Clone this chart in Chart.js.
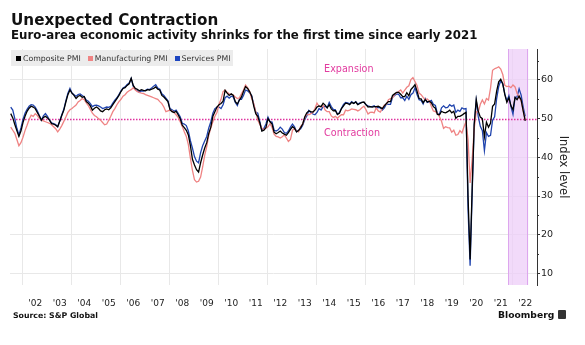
<!DOCTYPE html>
<html lang="en">
<head>
<meta charset="UTF-8">
<title>Unexpected Contraction</title>
<script src="https://cdn.jsdelivr.net/npm/chart.js"></script>
<style>
  body { margin: 0; background: #fff; font-family: "DejaVu Sans", sans-serif; color: #111; }
  .frame { position: relative; width: 585px; height: 345px; overflow: hidden; }
  #pmiChart { position: absolute; left: 0; top: 0; }
  .headline { position: absolute; left: 11px; top: 12px; font-size: 15.2px; font-weight: bold; line-height: 17px; white-space: nowrap; }
  .subhead { position: absolute; left: 11px; top: 29px; font-size: 11.8px; font-weight: bold; line-height: 13px; white-space: nowrap; }
  .legend { position: absolute; left: 11px; top: 50px; width: 222px; height: 16px; background: #ececec;
            display: flex; align-items: center; font-size: 7.8px; color: #333; }
  .legend span { display: inline-flex; align-items: center; white-space: nowrap; }
  .legend i { display: inline-block; width: 5px; height: 5px; margin: 0 2px 0 0; }
  .source { position: absolute; left: 13px; top: 311px; font-size: 7.8px; font-weight: bold; }
  .brand { position: absolute; left: 498px; top: 309px; font-size: 9.2px; font-weight: bold; display: flex; align-items: center; }
  .brand b { display: inline-block; width: 8px; height: 9px; background: #333; border-radius: 1px; margin-left: 4px; }
</style>
</head>
<body>
<div class="frame">
  <canvas id="pmiChart" width="585" height="345"></canvas>
  <div class="headline">Unexpected Contraction</div>
  <div class="subhead">Euro-area economic activity shrinks for the first time since early 2021</div>
  <div class="legend">
    <span style="margin-left:5px"><i style="background:#000"></i>Composite PMI</span>
    <span style="margin-left:7px"><i style="background:#ef8383"></i>Manufacturing PMI</span>
    <span style="margin-left:7px"><i style="background:#1c45c0"></i>Services PMI</span>
  </div>
  <div class="source">Source: S&amp;P Global</div>
  <div class="brand">Bloomberg<b></b></div>
</div>

<script>
// monthly readings, July 2001 through July 2022
const START_YEAR = 2001;
const START_MONTH = 7;

const composite = [
  51.3, 50.2, 48.5, 46.9, 45.4, 46.8,
  49.0, 50.6, 51.9, 52.7, 53.2, 53.0, 52.6, 51.6, 50.7, 49.6, 50.3, 50.6,
  50.2, 49.6, 48.7, 48.6, 48.3, 47.9, 49.3, 50.8, 52.2, 54.3, 56.2, 57.4,
  56.6, 56.0, 55.2, 55.8, 56.0, 55.5, 55.7, 54.4, 54.0, 53.3, 52.2, 52.7,
  53.0, 52.6, 52.0, 51.8, 52.3, 52.5, 52.3, 52.8, 53.6, 54.4, 55.2, 56.0,
  57.0, 57.8, 58.0, 58.6, 59.0, 60.4, 58.6, 57.8, 57.6, 57.2, 57.5, 57.3,
  57.2, 57.5, 57.4, 57.6, 57.8, 58.2, 57.6, 57.4, 56.0, 55.6, 55.0, 54.4,
  52.3, 51.8, 51.6, 51.9, 51.0, 50.0, 48.3, 47.7, 47.0, 45.8, 43.0, 39.5,
  38.0, 36.8, 36.2, 38.6, 40.6, 42.4, 43.8, 46.2, 47.8, 50.6, 51.8, 53.0,
  53.6, 53.9, 54.5, 57.3, 56.6, 56.0, 56.4, 56.0, 54.4, 53.8, 54.8, 55.6,
  57.0, 58.3, 57.8, 57.0, 55.8, 53.3, 51.3, 50.6, 48.9, 46.8, 47.0, 47.7,
  50.0, 49.2, 48.6, 46.5, 46.1, 46.4, 46.8, 46.3, 46.0, 45.7, 46.4, 47.2,
  47.9, 47.5, 46.6, 46.9, 47.7, 48.6, 50.4, 51.5, 52.0, 51.8, 51.7, 52.2,
  53.0, 53.3, 53.1, 54.0, 53.5, 52.8, 53.6, 52.5, 52.0, 52.1, 51.1, 51.4,
  52.6, 53.3, 54.0, 53.9, 53.6, 54.2, 53.9, 54.3, 53.6, 53.9, 54.2, 54.3,
  53.6, 53.0, 53.1, 53.0, 53.1, 53.1, 53.2, 52.9, 52.6, 53.3, 53.9, 54.4,
  54.4, 56.0, 56.4, 56.8, 56.8, 56.3, 55.7, 55.7, 56.7, 55.9, 57.5, 58.1,
  58.8, 57.1, 55.2, 55.1, 54.1, 54.9, 54.3, 54.5, 54.1, 53.1, 52.7, 51.1,
  51.0, 51.9, 51.6, 51.5, 51.8, 52.2, 51.5, 51.9, 50.1, 50.6, 50.6, 50.9,
  51.3, 51.6, 29.7, 13.6, 31.9, 48.5, 54.9, 51.9, 50.4, 50.0, 45.3, 49.1,
  47.8, 48.8, 53.2, 53.8, 57.1, 59.5, 60.2, 59.0, 56.2, 54.2, 55.4, 53.3,
  52.3, 55.5, 54.9, 55.8, 54.8, 52.0, 49.4
];

const manufacturing = [
  47.8, 47.0, 46.2, 44.6, 43.0, 43.8,
  45.2, 46.9, 48.3, 49.8, 50.9, 50.6, 51.3, 50.8, 50.1, 49.6, 49.4, 49.2,
  49.0, 48.8, 48.4, 47.9, 47.4, 46.6, 47.3, 48.2, 49.3, 50.4, 51.6, 52.3,
  52.6, 53.1, 53.5, 54.3, 54.7, 55.2, 54.9, 54.1, 53.4, 52.4, 51.4, 50.8,
  50.5, 50.0, 49.6, 49.0, 48.4, 48.6, 49.6, 50.6, 51.8, 52.6, 53.6, 54.4,
  55.0, 55.8, 56.2, 56.8, 57.2, 57.5, 58.0, 57.4, 57.0, 56.8, 56.6, 56.5,
  56.2, 56.0, 55.8, 55.6, 55.4, 55.2, 55.0, 54.4, 53.9, 53.0, 51.8, 52.0,
  52.2, 52.0, 51.6, 51.0, 50.3, 49.2, 48.0, 46.6, 45.4, 43.3, 39.8, 36.6,
  34.2, 33.6, 33.8, 34.9, 37.5, 40.5, 42.8, 45.7, 47.6, 49.2, 50.6, 51.6,
  53.7, 55.0, 57.0, 57.4, 56.8, 56.4, 56.3, 56.1, 55.6, 55.2, 55.4, 56.4,
  57.4, 58.7, 58.0, 57.0, 55.2, 53.9, 51.8, 49.6, 48.5, 47.5, 47.2, 47.5,
  47.9, 48.7, 47.7, 46.0, 45.4, 45.3, 45.0, 45.3, 45.8, 45.0, 44.1, 44.6,
  47.0, 47.4, 46.8, 46.6, 48.0, 48.6, 50.2, 51.2, 51.0, 51.3, 51.6, 52.6,
  54.0, 53.2, 53.0, 53.4, 52.2, 51.8, 51.8, 50.7, 50.3, 50.6, 50.1, 50.6,
  51.0, 51.0, 52.2, 52.0, 52.2, 52.5, 52.4, 52.3, 52.0, 52.3, 52.8, 53.2,
  52.3, 51.2, 51.6, 51.7, 51.5, 52.8, 52.0, 51.7, 52.6, 53.5, 53.7, 54.9,
  55.2, 55.4, 56.2, 56.7, 57.0, 57.4, 56.6, 57.4, 58.1, 58.5, 60.1, 60.6,
  59.6, 58.6, 56.6, 56.2, 55.5, 54.9, 55.1, 54.6, 53.2, 52.0, 51.8, 51.4,
  50.5, 49.3, 47.5, 47.9, 47.7, 47.6, 46.5, 47.0, 45.7, 45.9, 46.9, 46.3,
  47.9, 49.2, 44.5, 33.4, 39.4, 47.4, 51.8, 51.7, 53.7, 54.8, 53.8, 55.2,
  54.8, 57.9, 62.5, 62.9, 63.1, 63.4, 62.8, 61.4, 58.6, 58.3, 58.4, 58.0,
  58.7, 58.2, 56.5, 55.5, 54.6, 52.1, 49.6
];

const services = [
  53.0, 52.2, 50.0, 47.5, 45.8, 47.6,
  49.8, 51.4, 52.4, 53.2, 53.6, 53.5, 53.0, 52.0, 50.8, 49.6, 50.7, 51.3,
  50.6, 49.6, 48.9, 48.7, 48.5, 47.9, 49.4, 51.0, 52.4, 54.6, 56.6, 57.8,
  56.6, 56.2, 55.8, 56.2, 56.4, 56.0, 55.6, 54.8, 54.5, 53.9, 53.1, 53.4,
  53.5, 53.3, 53.0, 52.6, 52.8, 53.0, 52.9, 53.2, 54.0, 54.8, 55.4, 56.2,
  57.2, 57.9, 58.2, 58.8, 59.2, 60.4, 58.4, 57.6, 57.2, 56.8, 57.2, 57.1,
  57.3, 57.6, 57.5, 57.9, 58.4, 58.8, 57.9, 57.6, 56.4, 56.0, 55.3, 54.6,
  52.6, 52.3, 51.9, 52.2, 51.4, 50.5, 48.8, 48.6, 48.2, 46.8, 44.3, 42.4,
  40.2, 39.0, 38.6, 41.2, 43.0, 44.2, 45.4, 47.6, 49.2, 51.4, 52.6, 53.0,
  53.0, 52.6, 53.6, 55.4, 55.8, 55.3, 55.8, 55.6, 54.2, 53.4, 55.0, 55.0,
  56.0, 57.4, 57.2, 56.7, 56.0, 53.7, 51.7, 51.4, 49.2, 47.0, 47.5, 48.6,
  50.4, 49.2, 49.1, 47.0, 46.8, 47.1, 47.8, 47.3, 46.4, 46.2, 46.8, 47.8,
  48.6, 47.9, 46.6, 47.0, 47.4, 48.3, 49.8, 50.7, 52.1, 51.6, 51.2, 51.0,
  51.6, 52.6, 52.2, 53.1, 53.2, 52.8, 54.2, 53.1, 52.4, 52.3, 51.1, 51.6,
  52.7, 53.7, 54.2, 54.1, 53.8, 54.4, 54.0, 54.4, 53.7, 54.1, 54.2, 54.2,
  53.6, 53.3, 53.1, 53.1, 53.3, 52.8, 52.9, 52.8, 52.2, 52.8, 53.8, 53.7,
  53.7, 55.5, 56.0, 56.4, 56.3, 55.4, 55.4, 54.7, 55.8, 55.0, 56.2, 56.6,
  58.0, 56.2, 54.9, 54.7, 53.8, 55.2, 54.2, 54.4, 54.7, 53.7, 53.4, 51.2,
  51.2, 52.8, 53.3, 52.8, 52.9, 53.6, 53.2, 53.5, 51.6, 52.2, 51.9, 52.8,
  52.5, 52.6, 26.4, 12.0, 30.5, 48.3, 54.7, 50.5, 48.0, 46.9, 41.7, 46.4,
  45.4, 45.7, 49.6, 50.5, 55.2, 58.3, 59.8, 59.0, 56.4, 54.6, 55.9, 53.1,
  51.1, 55.5, 55.6, 57.7, 56.1, 53.0, 50.6
];

const yearLabels = ["'02", "'03", "'04", "'05", "'06", "'07", "'08", "'09", "'10", "'11", "'12",
                    "'13", "'14", "'15", "'16", "'17", "'18", "'19", "'20", "'21", "'22"];
const firstLabelYear = 2002;
const gridYears = [2002, 2004, 2006, 2008, 2010, 2012, 2014, 2016, 2018, 2020, 2022];
const yTicks = [10, 20, 30, 40, 50, 60];
const yMinorTicks = [15, 25, 35, 45, 55, 65];
const shadedPeriod = [2021.8, 2022.62];

// decimal-year position of every monthly reading
const months = composite.map((_, i) => START_YEAR + (START_MONTH - 1 + i) / 12);
const toPoints = arr => arr.map((v, i) => ({ x: months[i], y: v }));

const X_MIN = 2001.47, X_MAX = 2022.98;

Chart.defaults.font.family = '"DejaVu Sans", sans-serif';

const extras = {
  id: 'extras',
  beforeDatasetsDraw(chart) {
    const { ctx, chartArea: a, scales: { x, y } } = chart;
    ctx.save();

    // shaded recent months
    const x0 = x.getPixelForValue(shadedPeriod[0]);
    const x1 = x.getPixelForValue(shadedPeriod[1]);
    ctx.fillStyle = 'rgba(238, 206, 248, 0.75)';
    ctx.fillRect(x0, a.top, x1 - x0, a.bottom - a.top);
    ctx.strokeStyle = '#dda6ee';
    ctx.lineWidth = 1;
    ctx.beginPath();
    ctx.moveTo(Math.round(x0) + 0.5, a.top); ctx.lineTo(Math.round(x0) + 0.5, a.bottom);
    ctx.moveTo(Math.round(x1) - 0.5, a.top); ctx.lineTo(Math.round(x1) - 0.5, a.bottom);
    ctx.stroke();

    // 50 = expansion / contraction threshold
    const y50 = Math.round(y.getPixelForValue(50)) + 0.5;
    ctx.setLineDash([1.5, 1.5]);
    ctx.strokeStyle = '#e0339f';
    ctx.lineWidth = 1.4;
    ctx.beginPath();
    ctx.moveTo(a.left, y50);
    ctx.lineTo(a.right, y50);
    ctx.stroke();
    ctx.setLineDash([]);

    ctx.fillStyle = '#e23b9f';
    ctx.font = '9.6px "DejaVu Sans"';
    ctx.textAlign = 'left';
    ctx.textBaseline = 'middle';
    ctx.fillText('Expansion', x.getPixelForValue(2014.29), y.getPixelForValue(62.6));
    ctx.fillText('Contraction', x.getPixelForValue(2014.29), y.getPixelForValue(46.1));
    ctx.restore();
  },
  afterDraw(chart) {
    // short minor ticks on the right axis
    const { ctx, scales: { y } } = chart;
    ctx.save();
    ctx.strokeStyle = '#333';
    ctx.lineWidth = 1;
    ctx.beginPath();
    yMinorTicks.forEach(v => {
      const py = Math.round(y.getPixelForValue(v)) + 0.5;
      ctx.moveTo(y.left, py);
      ctx.lineTo(y.left + 2, py);
    });
    ctx.stroke();
    ctx.restore();
  }
};

new Chart(document.getElementById('pmiChart'), {
  type: 'line',
  data: {
    datasets: [
      { label: 'Composite PMI', data: toPoints(composite), borderColor: '#000000' },
      { label: 'Manufacturing PMI', data: toPoints(manufacturing), borderColor: '#ef8383' },
      { label: 'Services PMI', data: toPoints(services), borderColor: '#1f43ad' }
    ]
  },
  options: {
    responsive: false,
    animation: false,
    events: [],
    datasets: { line: { borderWidth: 1.3, pointRadius: 0, tension: 0, fill: false } },
    layout: { padding: { left: 10, right: 0, top: 49, bottom: 0 } },
    plugins: { legend: { display: false }, tooltip: { enabled: false } },
    scales: {
      x: {
        type: 'linear', position: 'bottom', min: X_MIN, max: X_MAX,
        grid: { display: false, drawTicks: false },
        border: { display: false },
        afterBuildTicks: s => { s.ticks = yearLabels.map((_, i) => ({ value: firstLabelYear + i + 0.5 })); },
        ticks: {
          autoSkip: false, maxRotation: 0, padding: 13, color: '#222', font: { size: 9 },
          callback: (v, i) => yearLabels[i]
        },
        afterFit: s => { s.height = 60; }
      },
      xGrid: {
        type: 'linear', position: 'bottom', min: X_MIN, max: X_MAX,
        ticks: { display: false },
        grid: { color: '#e8e8e8', drawTicks: false },
        border: { display: false },
        afterBuildTicks: s => { s.ticks = gridYears.map(v => ({ value: v })); },
        afterFit: s => { s.height = 0; }
      },
      y: {
        position: 'right', min: 7, max: 68,
        afterBuildTicks: s => { s.ticks = yTicks.map(v => ({ value: v })); },
        grid: {
          color: c => (c.tick && c.tick.value === 50 ? 'rgba(0,0,0,0)' : '#e8e8e8'),
          tickColor: '#333', tickLength: 3
        },
        border: { display: true, color: '#333', width: 1 },
        ticks: { padding: 1, color: '#222', font: { size: 9.5 } },
        title: { display: true, text: 'Index level', color: '#222', font: { size: 11.5 }, padding: { top: 15 } },
        afterFit: s => { s.width = 48; }
      }
    }
  },
  plugins: [extras]
});
</script>
</body>
</html>
